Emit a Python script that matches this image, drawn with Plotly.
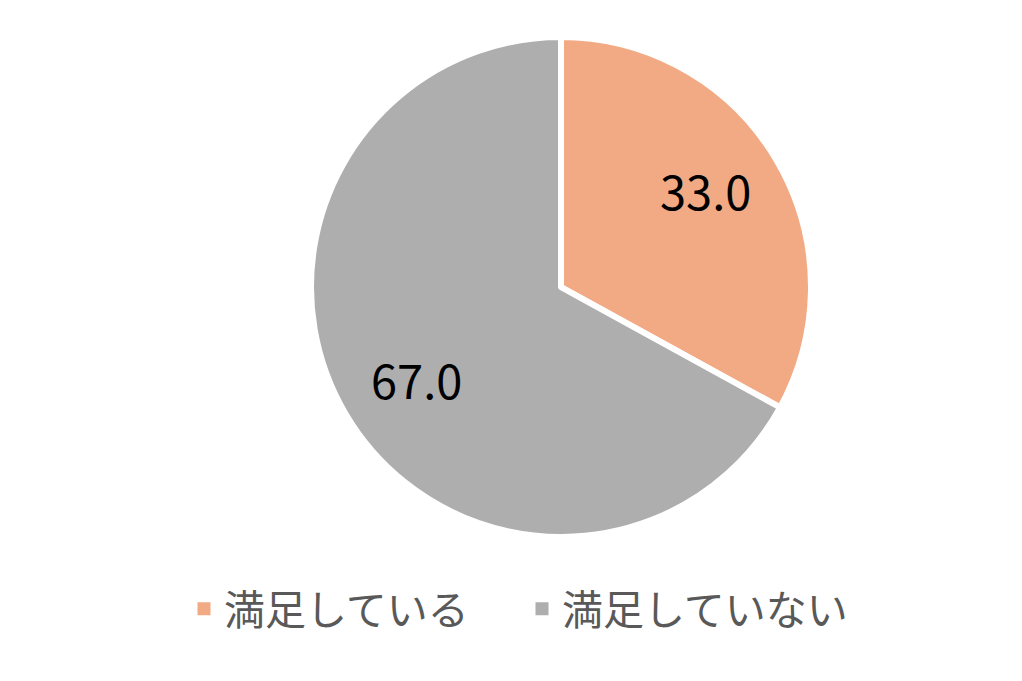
import math
import plotly.graph_objects as go

labels = ["満足している", "満足していない"]
values = [33.0, 67.0]
colors = ["#F2AA84", "#AEAEAE"]

W, H = 1022, 681
dom_x = [0.2411, 0.8411]
dom_y = [0.2232, 0.9574]

fig = go.Figure(go.Pie(
    labels=labels,
    values=values,
    sort=False,
    direction="clockwise",
    rotation=0,
    domain=dict(x=dom_x, y=dom_y),
    marker=dict(colors=colors, line=dict(color="white", width=6)),
    textinfo="none",
    hoverinfo="label+value",
    showlegend=False,
))

# legend entries with solid square swatches
for lab, col in zip(labels, colors):
    fig.add_trace(go.Scatter(
        x=[None], y=[None], mode="markers", name=lab,
        marker=dict(symbol="square", size=13, color=col),
        showlegend=True, hoverinfo="skip",
    ))

# data labels placed along each slice's mid-angle
cx = (dom_x[0] + dom_x[1]) / 2 * W
cy = (1 - (dom_y[0] + dom_y[1]) / 2) * H
R = min((dom_x[1] - dom_x[0]) * W, (dom_y[1] - dom_y[0]) * H) / 2
total = sum(values)
cum = 0.0
for v in values:
    mid = (cum + v / 2) / total * 2 * math.pi - math.radians(2.5)
    cum += v
    px = cx + 0.69 * R * math.sin(mid)
    py = cy - 0.69 * R * math.cos(mid)
    fig.add_annotation(
        x=px / W, y=1 - py / H, xref="paper", yref="paper",
        xanchor="center", yanchor="middle", yshift=3,
        text=f"{v:.1f}", showarrow=False,
        font=dict(family="Noto Sans CJK JP", size=47, color="black"),
    )

fig.update_layout(
    width=W, height=H,
    margin=dict(l=0, r=0, t=0, b=0),
    paper_bgcolor="white",
    plot_bgcolor="white",
    xaxis=dict(visible=False),
    yaxis=dict(visible=False),
    showlegend=True,
    legend=dict(
        orientation="h",
        x=176 / W, xanchor="left",
        y=1 - 601 / H, yanchor="middle",
        font=dict(family="Noto Sans CJK JP", size=41, color="#595959"),
        entrywidth=293, entrywidthmode="pixels",
    ),
)

fig.write_html("out.html")
